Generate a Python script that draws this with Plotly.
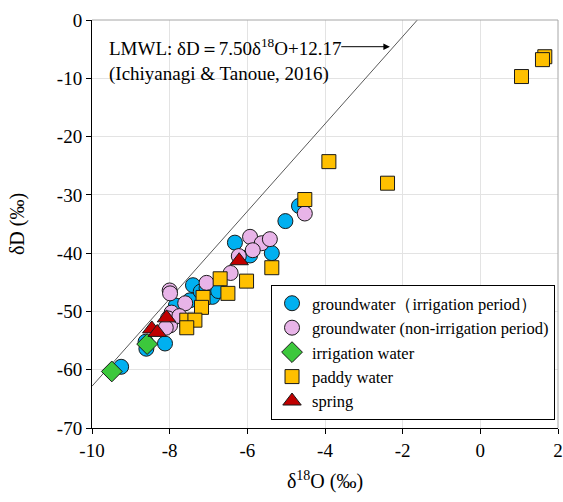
import plotly.graph_objects as go

# ---------------- data ----------------
gw_irr_x = [-9.25, -8.60, -8.62, -8.12, -7.94, -7.84, -7.48, -7.40, -7.20, -6.90, -6.32, -5.93, -5.37, -5.02, -4.67, -7.05, -6.75]
gw_irr_y = [-59.5, -56.4, -55.2, -55.5, -50.2, -49.0, -48.1, -45.5, -46.6, -47.5, -38.2, -40.4, -40.0, -34.5, -31.9, -46.0, -46.5]

gw_non_x = [-8.00, -7.99, -5.93, -5.63, -5.42, -5.86, -6.22, -6.43, -7.05, -4.52, -7.60, -7.95, -8.04, -7.99, -8.10, -7.75]
gw_non_y = [-46.4, -46.9, -37.2, -38.3, -37.6, -39.5, -40.5, -43.4, -45.1, -33.2, -48.6, -50.2, -51.2, -52.4, -52.8, -50.8]

irr_x = [-9.49, -8.58]
irr_y = [-60.3, -55.6]

paddy_x = [1.66, 1.60, 1.06, -2.39, -3.90, -4.52, -5.37, -6.02, -6.70, -6.50, -7.14, -7.18, -7.56, -7.35, -7.56]
paddy_y = [-6.3, -6.8, -9.7, -28.0, -24.3, -30.8, -42.5, -44.8, -44.4, -46.9, -47.6, -49.3, -51.5, -51.5, -52.8]

spring_x = [-6.21, -8.08, -8.46, -8.32]
spring_y = [-41.3, -51.1, -53.0, -53.6]

lmwl_slope = 7.50
lmwl_intercept = 12.17
lmwl_x = [-10.0, -12.17 / 7.50]

x_ticks = [-10, -8, -6, -4, -2, 0, 2]
x_tick_labels = ["-10", "-8", "-6", "-4", "-2", "0", "2"]
y_ticks = [0, -10, -20, -30, -40, -50, -60, -70]
y_tick_labels = ["0", "-10", "-20", "-30", "-40", "-50", "-60", "-70"]

FONT = "Liberation Serif, Times New Roman, serif"

fig = go.Figure()

# LMWL line
fig.add_trace(go.Scatter(
    x=lmwl_x, y=[lmwl_slope * v + lmwl_intercept for v in lmwl_x],
    mode="lines", line=dict(color="#595959", width=1), showlegend=False, hoverinfo="skip"))

def add(x, y, name, symbol, color, size):
    fig.add_trace(go.Scatter(
        x=x, y=y, mode="markers", name=name,
        marker=dict(symbol=symbol, color=color, size=size, line=dict(color="#1a1a1a", width=1))))

add(gw_irr_x, gw_irr_y, "groundwater（irrigation period）", "circle", "#00B0F0", 15)
add(gw_non_x, gw_non_y, "groundwater (non-irrigation period)", "circle", "#E8B4E8", 15)
add(irr_x, irr_y, "irrigation water", "diamond", "#3CC83C", 16)
add(paddy_x, paddy_y, "paddy water", "square", "#FFC000", 14)
add(spring_x, spring_y, "spring", "triangle-up", "#C00000", 16)

fig.update_layout(
    width=563, height=502,
    margin=dict(l=92, r=5, t=20, b=74),
    paper_bgcolor="white", plot_bgcolor="white",
    font=dict(family=FONT, size=18, color="black"),
    xaxis=dict(range=[-10, 2], tickvals=x_ticks, ticktext=x_tick_labels, showgrid=True,
               gridcolor="#E3E3E3", automargin=False,
               showline=True, linecolor="black", linewidth=1, ticks="outside", ticklen=5,
               tickcolor="black", zeroline=False, tickfont=dict(family=FONT, size=19),
               title=dict(text="δ<sup>18</sup>O (‰)", font=dict(family=FONT, size=20), standoff=14)),
    yaxis=dict(range=[-70, 0], tickvals=y_ticks, ticktext=y_tick_labels, showgrid=True,
               gridcolor="#E3E3E3", automargin=False,
               showline=True, linecolor="black", linewidth=1, ticks="outside", ticklen=5,
               tickcolor="black", zeroline=False, tickfont=dict(family=FONT, size=19),
               title=dict(text="δD (‰)", font=dict(family=FONT, size=20), standoff=26)),
    legend=dict(x=0.9936, y=0.0196, xanchor="right", yanchor="bottom",
                bgcolor="white", bordercolor="black", borderwidth=1,
                font=dict(family=FONT, size=16.5), tracegroupgap=0),
    shapes=[
        dict(type="line", xref="paper", yref="paper", x0=0, x1=1, y0=1, y1=1,
             line=dict(color="#A6A6A6", width=1)),
        dict(type="line", xref="paper", yref="paper", x0=1, x1=1, y0=0, y1=1,
             line=dict(color="#A6A6A6", width=1)),
    ],
    annotations=[
        dict(x=-9.61, y=-6.8, xref="x", yref="y", xanchor="left", yanchor="middle",
             align="left", showarrow=False,
             text="LMWL: δD＝7.50δ<sup>18</sup>O+12.17<br>(Ichiyanagi & Tanoue, 2016)",
             font=dict(family=FONT, size=19)),
        dict(x=-2.33, y=-4.58, ax=-3.62, ay=-4.58, xref="x", yref="y", axref="x", ayref="y",
             text="", showarrow=True, arrowhead=2, arrowsize=1.3, arrowwidth=1, arrowcolor="black"),
    ],
)

fig.write_html("out.html", config={"displayModeBar": False},
               post_script="document.body.style.margin='0';document.body.style.padding='0';")
